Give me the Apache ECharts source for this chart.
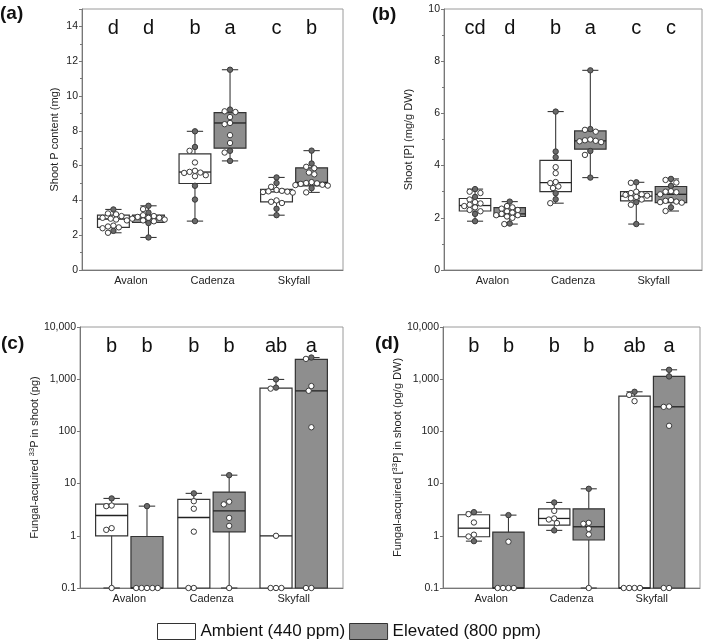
<!DOCTYPE html>
<html><head><meta charset="utf-8">
<script src="https://cdn.jsdelivr.net/npm/echarts@6/dist/echarts.min.js"></script>
<style>html,body{margin:0;padding:0;background:#fff}#c{width:709px;height:643px}</style>
</head><body><div id="c"></div>
<script>
const categories = ['Avalon', 'Cadenza', 'Skyfall'];
const treatments = ['Ambient (440 ppm)', 'Elevated (800 ppm)'];

// (a) Shoot P content (mg) — box stats [min, q1, median, q3, max]
const aAmbientBox = [[2.14, 2.45, 2.93, 3.15, 3.48], [2.81, 4.97, 5.63, 6.67, 7.97], [3.15, 3.92, 4.49, 4.63, 5.32]];
const aElevatedBox = [[1.87, 2.73, 2.96, 3.15, 3.69], [6.27, 7.0, 8.45, 9.04, 11.51], [4.46, 4.84, 5.03, 5.87, 6.86]];
const aAmbientPoints = [
  [3.48, 3.25, 3.2, 3.1, 3.0, 2.95, 2.9, 2.85, 2.55, 2.5, 2.45, 2.4, 2.25, 2.14],
  [7.97, 7.07, 6.85, 6.18, 5.7, 5.64, 5.6, 5.58, 5.45, 5.39, 4.84, 4.05, 2.81],
  [5.32, 5.0, 4.78, 4.6, 4.55, 4.52, 4.5, 4.48, 4.45, 4.0, 3.92, 3.85, 3.52, 3.15]
];
const aElevatedPoints = [
  [3.69, 3.5, 3.3, 3.15, 3.1, 3.05, 3.0, 3.0, 2.95, 2.9, 2.85, 2.8, 2.7, 1.87],
  [11.51, 9.22, 9.12, 9.08, 8.79, 8.45, 8.38, 7.75, 7.3, 6.85, 6.75, 6.27],
  [6.86, 6.12, 5.93, 5.85, 5.6, 5.5, 5.05, 5.0, 4.98, 4.95, 4.9, 4.88, 4.85, 4.7, 4.46]
];
const aLetters = [['d', 'b', 'c'], ['d', 'a', 'b']];

// (b) Shoot [P] (mg/g DW)
const bAmbientBox = [[1.87, 2.26, 2.47, 2.74, 3.1], [2.56, 3.0, 3.35, 4.2, 6.07], [1.76, 2.65, 2.83, 3.0, 3.36]];
const bElevatedBox = [[1.76, 2.05, 2.15, 2.39, 2.62], [3.54, 4.63, 4.95, 5.33, 7.65], [2.26, 2.58, 2.9, 3.2, 3.49]];
const bAmbientPoints = [
  [3.1, 3.0, 2.95, 2.8, 2.7, 2.6, 2.55, 2.5, 2.45, 2.4, 2.3, 2.25, 2.15, 1.87],
  [6.07, 4.54, 4.32, 3.94, 3.71, 3.37, 3.33, 3.2, 3.14, 2.94, 2.71, 2.56],
  [3.36, 3.34, 3.0, 2.95, 2.9, 2.88, 2.85, 2.8, 2.75, 2.7, 2.6, 2.5, 1.76]
];
const bElevatedPoints = [
  [2.62, 2.45, 2.4, 2.35, 2.3, 2.25, 2.2, 2.15, 2.1, 2.1, 2.05, 2.0, 1.78, 1.76],
  [7.65, 5.4, 5.37, 5.3, 5.0, 4.97, 4.95, 4.93, 4.9, 4.56, 4.41, 3.54],
  [3.49, 3.45, 3.35, 3.22, 3.02, 3.0, 2.98, 2.9, 2.68, 2.65, 2.62, 2.6, 2.58, 2.4, 2.26]
];
const bLetters = [['cd', 'b', 'c'], ['d', 'a', 'c']];

// (c) Fungal-acquired 33P in shoot (pg) — zeros drawn at the axis floor
const cAmbientBox = [[0, 1.0, 2.45, 4.04, 5.2], [0, 0, 2.24, 4.97, 6.5], [0, 0, 1.0, 674, 990]];
const cElevatedBox = [[0, 0, 0, 0.97, 3.7], [0, 1.19, 3.01, 6.87, 14.5], [0, 0, 600, 2390, 2600]];
const cAmbientPoints = [[5.2, 3.8, 3.7, 1.4, 1.3, 0], [6.5, 4.6, 3.3, 1.2, 0, 0], [990, 690, 660, 1.0, 0, 0, 0]];
const cElevatedPoints = [[3.7, 0, 0, 0, 0, 0], [14.5, 4.5, 4.0, 2.2, 1.55, 0], [2600, 2450, 740, 600, 120, 0, 0]];
const cLetters = [['b', 'b', 'ab'], ['b', 'b', 'a']];

// (d) Fungal-acquired [33P] in shoot (pg/g DW)
const dAmbientBox = [[0.79, 0.96, 1.4, 2.53, 2.84], [1.27, 1.6, 2.15, 3.29, 4.35], [0, 0, 0, 474, 574]];
const dElevatedBox = [[0, 0, 0, 1.18, 2.49], [0, 0.83, 1.49, 3.29, 7.95], [0, 0, 296, 1128, 1514]];
const dAmbientPoints = [[2.84, 2.6, 1.8, 1.05, 0.97, 0.79], [4.35, 3.0, 2.15, 2.05, 1.75, 1.27], [574, 500, 380, 0, 0, 0, 0]];
const dElevatedPoints = [[2.49, 0.77, 0, 0, 0, 0], [7.95, 1.77, 1.7, 1.36, 1.06, 0], [1514, 1130, 300, 295, 128, 0, 0]];
const dLetters = [['b', 'b', 'ab'], ['b', 'b', 'a']];

const linearTicksA = [0, 15, 2];
const linearTicksB = [0, 10, 2];
const logTicks = [0.1, 10000];

// ---------- styling / layout ----------
const FONT = 'Liberation Sans, Arial, Helvetica, sans-serif';
const BOX_OFFSET = 0.215, BOX_HALF = 0.195, CAP_HALF = 0.1, R = 2.7;
const FILLS = ['#ffffff', '#8e8e8e'];

const panels = [
  { tag: '(a)', grid: { left: 82, top: 9, width: 261, height: 261 }, log: false, ticks: linearTicksA,
    name: 'Shoot P content (mg)', nameGap: 22, boxes: [aAmbientBox, aElevatedBox], points: [aAmbientPoints, aElevatedPoints], letters: aLetters, tagPos: [0, 4] },
  { tag: '(b)', grid: { left: 444, top: 9, width: 258, height: 261 }, log: false, ticks: linearTicksB,
    name: 'Shoot [P] (mg/g DW)', nameGap: 30, boxes: [bAmbientBox, bElevatedBox], points: [bAmbientPoints, bElevatedPoints], letters: bLetters, tagPos: [372, 5] },
  { tag: '(c)', grid: { left: 80, top: 327, width: 263, height: 261 }, log: true, ticks: logTicks,
    name: '{n|Fungal-acquired }{s|33}{n|P in shoot (pg)}', nameGap: 36, boxes: [cAmbientBox, cElevatedBox], points: [cAmbientPoints, cElevatedPoints], letters: cLetters, tagPos: [1, 334] },
  { tag: '(d)', grid: { left: 443, top: 327, width: 257, height: 261 }, log: true, ticks: logTicks,
    name: '{n|Fungal-acquired [}{s|33}{n|P] in shoot (pg/g DW)}', nameGap: 37, boxes: [dAmbientBox, dElevatedBox], points: [dAmbientPoints, dElevatedPoints], letters: dLetters, tagPos: [375, 334] }
];

function makeRender(panel, t) {
  const floor = panel.ticks[0];
  return function (params, api) {
    const i = params.dataIndex;
    const box = panel.boxes[t][i];
    const pts = panel.points[t][i];
    const cx = i + 1 + (t === 0 ? -BOX_OFFSET : BOX_OFFSET);
    const yOf = v => api.coord([cx, Math.max(v, floor)])[1];
    const xc = api.coord([cx, floor])[0];
    const xl = api.coord([cx - BOX_HALF, floor])[0];
    const xr = api.coord([cx + BOX_HALF, floor])[0];
    const capL = api.coord([cx - CAP_HALF, floor])[0];
    const capR = api.coord([cx + CAP_HALF, floor])[0];
    const yMin = yOf(box[0]), yQ1 = yOf(box[1]), yMed = yOf(box[2]), yQ3 = yOf(box[3]), yMax = yOf(box[4]);
    const lineStyle = { stroke: '#3a3a3a', lineWidth: 1.1 };
    const children = [
      { type: 'rect', shape: { x: xl, y: yQ3, width: xr - xl, height: yQ1 - yQ3 }, style: { fill: FILLS[t], stroke: '#333', lineWidth: 1.2 } },
      { type: 'line', shape: { x1: xl, y1: yMed, x2: xr, y2: yMed }, style: { stroke: '#222', lineWidth: 1.3 } }
    ];
    if (yMin - yQ1 > 0.5) {
      children.push({ type: 'line', shape: { x1: xc, y1: yQ1, x2: xc, y2: yMin }, style: lineStyle });
      children.push({ type: 'line', shape: { x1: capL, y1: yMin, x2: capR, y2: yMin }, style: lineStyle });
    }
    if (yQ3 - yMax > 0.5) {
      children.push({ type: 'line', shape: { x1: xc, y1: yQ3, x2: xc, y2: yMax }, style: lineStyle });
      children.push({ type: 'line', shape: { x1: capL, y1: yMax, x2: capR, y2: yMax }, style: lineStyle });
    }
    // deterministic beeswarm placement
    const placed = [];
    pts.forEach(v => {
      const y = yOf(v);
      let dx = 0;
      for (let k = 0; k < 60; k++) {
        const cand = (k % 2 === 1 ? -1 : 1) * Math.ceil(k / 2) * R;
        const ok = placed.every(p => (p.x - cand) * (p.x - cand) + (p.y - y) * (p.y - y) >= (2 * R) * (2 * R) * 0.92);
        if (ok) { dx = cand; break; }
      }
      placed.push({ x: dx, y: y, v: v });
    });
    placed.forEach(p => {
      const onWhisker = p.x === 0 && (p.v > box[3] || p.v < box[1]) && p.v > floor;
      children.push({ type: 'circle', shape: { cx: xc + p.x, cy: p.y, r: R },
        style: { fill: onWhisker ? '#6a6a6a' : '#ffffff', stroke: '#3a3a3a', lineWidth: 1 } });
    });
    children.push({ type: 'text', style: { text: panel.letters[t][i], x: xc, y: params.coordSys.y + 19,
      align: 'center', verticalAlign: 'middle', font: '20px ' + FONT, fill: '#111' } });
    return { type: 'group', children: children };
  };
}

const option = {
  animation: false,
  backgroundColor: '#fff',
  textStyle: { fontFamily: FONT },
  grid: panels.map(p => Object.assign({ show: true, borderColor: '#9a9a9a', borderWidth: 1, backgroundColor: 'transparent', outerBoundsMode: 'none' }, p.grid)),
  xAxis: panels.map((p, k) => ({
    gridIndex: k, type: 'value', min: 0.4, max: 3.6,
    splitLine: { show: false },
    axisLine: { show: true, lineStyle: { color: '#777', width: 1 } },
    axisTick: { show: false },
    axisLabel: { customValues: [1, 2, 3], formatter: v => categories[Math.round(v) - 1], fontSize: 11, color: '#222', margin: 5 }
  })),
  yAxis: panels.map((p, k) => {
    const base = {
      gridIndex: k, name: p.name, nameLocation: 'middle', nameRotate: 90, nameGap: p.nameGap,
      nameTextStyle: { fontSize: 11, color: '#222', rich: { n: { fontSize: 11, color: '#222' }, s: { fontSize: 7.5, color: '#222', verticalAlign: 'top', lineHeight: 13 } } },
      splitLine: { show: false },
      axisLine: { show: true, lineStyle: { color: '#777', width: 1 } },
      axisTick: { show: true, length: 3, lineStyle: { color: '#777' } },
      axisLabel: { fontSize: 10.5, color: '#222', margin: 4 }
    };
    if (p.log) {
      return Object.assign(base, { type: 'log', logBase: 10, min: p.ticks[0], max: p.ticks[1],
        axisLabel: Object.assign(base.axisLabel, { formatter: v => v >= 1000 ? Number(v).toLocaleString('en-US') : String(v) }) });
    }
    return Object.assign(base, { type: 'value', min: p.ticks[0], max: p.ticks[1], interval: p.ticks[2],
      minorTick: { show: true, splitNumber: 2, length: 2, lineStyle: { color: '#777' } },
      axisLabel: Object.assign(base.axisLabel, { showMaxLabel: p.ticks[1] % p.ticks[2] === 0 }) });
  }),
  legend: {
    left: 157, top: 623, padding: 0, itemWidth: 38, itemHeight: 16, itemGap: 4,
    textStyle: { fontSize: 17, color: '#111', fontFamily: FONT },
    selectedMode: false,
    data: [
      { name: treatments[0], icon: 'rect', itemStyle: { color: FILLS[0], borderColor: '#333', borderWidth: 1 } },
      { name: treatments[1], icon: 'rect', itemStyle: { color: FILLS[1], borderColor: '#333', borderWidth: 1 } }
    ]
  },
  graphic: panels.map(p => ({ type: 'text', left: p.tagPos[0], top: p.tagPos[1],
    style: { text: p.tag, font: 'bold 19px ' + FONT, fill: '#111' } })),
  series: []
};

panels.forEach((p, k) => {
  [0, 1].forEach(t => {
    option.series.push({
      type: 'custom', name: treatments[t], xAxisIndex: k, yAxisIndex: k, clip: false,
      itemStyle: { color: FILLS[t], borderColor: '#333' },
      renderItem: makeRender(p, t),
      encode: { x: 0, y: [1, 2, 3, 4, 5] },
      data: p.boxes[t].map((b, i) => [i + 1].concat(b.map(v => Math.max(v, p.ticks[0]))))
    });
  });
});

const chart = echarts.init(document.getElementById('c'), null, { renderer: 'canvas' });
chart.setOption(option);
</script></body></html>
